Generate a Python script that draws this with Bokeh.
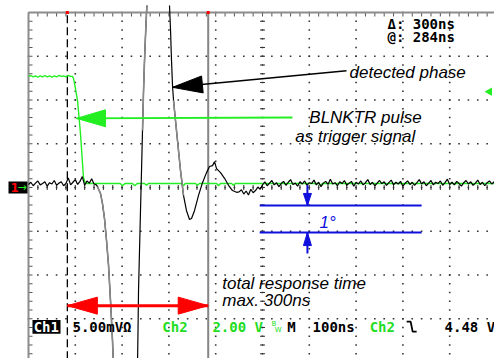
import numpy as np
from bokeh.plotting import figure
from bokeh.models import Range1d
from bokeh.core.properties import value
from bokeh.embed import file_html
from bokeh.resources import INLINE

# ---------------- data (time in ns, amplitude in divisions) ----------------
grid_x = list(range(0, 1001, 100))       # 100 ns / div
grid_y = list(range(-4, 5))              # 8 vertical divisions

cursor_a = 83.0                          # dashed cursor
cursor_b = 384.0                         # solid cursor  (delta 300 ns)

# Ch1 (detected phase) - noise before the edge
ch1_left_t = list(range(0, 150, 5))
ch1_left_v = [0.07, 0.12, 0.04, 0.10, 0.15, 0.06, 0.09, 0.13, 0.03, 0.11,
              0.08, 0.16, 0.05, 0.10, 0.13, 0.04, 0.09, 0.22, 0.06, 0.12,
              0.18, 0.07, 0.14, 0.25, 0.05, 0.15, 0.10, 0.20, 0.08, 0.06]
# falling part (off screen at the bottom)
ch1_fall_t = [147.4, 153.9, 158.1, 162.4, 166.7, 171.0, 175.2, 179.5, 181.6]
ch1_fall_v = [0.02, -0.14, -0.37, -0.71, -1.21, -1.78, -2.58, -3.50, -4.07]
# steep rise (bottom to top)
ch1_rise_t = [232.9, 234.0, 235.1, 237.2, 239.3, 241.5, 243.6, 245.8, 247.9, 250.0, 252.2, 253.2]
ch1_rise_v = [-4.07, -3.27, -2.35, -1.44, -0.53, 0.39, 1.30, 2.21, 2.90, 3.47, 4.00, 4.16]
# coming back from the top and ringing
ch1_ring_t = [301.3, 303.5, 305.6, 307.7, 309.9, 314.1, 318.4, 324.8, 331.2, 337.6,
              344.1, 348.3, 354.7, 363.3, 371.8, 380.4, 386.8, 393.2, 397.5, 401.8,
              410.3, 418.9, 427.4, 435.9, 444.5]
ch1_ring_v = [4.16, 3.59, 2.90, 2.33, 1.99, 1.53, 1.07, 0.39, -0.18, -0.53,
              -0.73, -0.71, -0.53, -0.18, 0.11, 0.34, 0.48, 0.50, 0.59, 0.43,
              0.34, 0.21, 0.05, -0.07, -0.11]
# noise after settling
ch1_right_t = list(range(450, 1001, 5))
ch1_right_v = [-0.10, -0.05, -0.15, -0.08, -0.17, -0.04, -0.12, -0.07, 0.01, -0.04, 0.06,
               0.13, 0.04, 0.10, 0.16, 0.06, 0.11, 0.02, 0.09, 0.14, 0.05, 0.12, 0.18, 0.07, 0.10, 0.03, 0.13, 0.08, 0.15, 0.05, 0.11,
               0.09, 0.17, 0.06, 0.12, 0.02, 0.10, 0.14, 0.07, 0.19, 0.08, 0.11, 0.04, 0.13, 0.09, 0.16, 0.05, 0.10, 0.14, 0.03, 0.12,
               0.08, 0.15, 0.06, 0.11, 0.18, 0.07, 0.12, 0.04, 0.10, 0.16, 0.09, 0.13, 0.05, 0.11, 0.17, 0.06, 0.12, 0.08, 0.14, 0.03,
               0.10, 0.15, 0.07, 0.12, 0.05, 0.11, 0.18, 0.08, 0.13, 0.04, 0.10, 0.16, 0.06, 0.12, 0.09, 0.15, 0.05, 0.11, 0.19, 0.07,
               0.12, 0.06, 0.14, 0.09, 0.03, 0.11, 0.16, 0.08, 0.13, 0.05, 0.10, 0.17, 0.07, 0.12, 0.04, 0.11, 0.15, 0.08, 0.13, 0.09]

# Ch2 (BLNKTR pulse)
ch2_t = [0, 5, 10, 15, 20, 25, 30, 35, 40, 45, 50, 55, 60, 65, 70, 75, 80, 85, 90,
         94.0, 96.2, 98.3, 104.7, 111.1, 117.5, 121.8,
         196, 201, 206, 222, 227, 232, 248, 252, 256, 327, 331, 335, 357, 361, 365,
         402, 406, 410, 434, 438, 442, 620, 624, 628, 1000]
ch2_v = [2.54, 2.56, 2.53, 2.55, 2.52, 2.55, 2.53, 2.56, 2.53, 2.55, 2.52, 2.55, 2.53, 2.56, 2.54, 2.55, 2.53, 2.56, 2.54,
         2.54, 2.49, 2.38, 1.99, 1.23, 0.23, 0.09,
         0.09, 0.04, 0.09, 0.09, 0.04, 0.09, 0.09, 0.05, 0.09, 0.09, 0.04, 0.09, 0.09, 0.05, 0.09,
         0.09, 0.04, 0.09, 0.09, 0.05, 0.09, 0.09, 0.05, 0.09, 0.09]
ch2_trig_level = 2.19

# annotations
black_arrow = ((679.5, 2.67), (307.7, 2.29))     # (tail, tip)
green_arrow = ((564.0, 1.60), (102.6, 1.58))
red_arrow_y = -2.70
blue_levels = [-0.41, -1.03]
blue_span = (494.0, 840.0)
blue_x = 596.0
blue_top_tail = 0.05
blue_bot_tail = -1.51

labels_txt = ["detected phase", "BLNKTR pulse", "as trigger signal", "total response time", "max. 300ns"]
labels_x = [686.0, 600.0, 570.0, 414.0, 414.0]
labels_y = [2.63, 1.60, 1.17, -2.19, -2.58]

# ---------------- figure ----------------
PXNS = 46.8 / 100.0      # px per ns
PXDIV = 43.75            # px per division
W, H = 494, 358
X0 = -28.0 / PXNS
Y1 = 187.0 / PXDIV
p = figure(width=W, height=H, x_range=Range1d(X0, X0 + W / PXNS),
           y_range=Range1d(Y1 - H / PXDIV, Y1), output_backend="svg",
           toolbar_location=None, x_axis_location=None, y_axis_location=None,
           min_border=0, outline_line_color=None, background_fill_color="white",
           border_fill_color="white")
p.grid.visible = False


def ox(px):
    return px / PXNS


def oy(px):
    return px / PXDIV


# graticule dots
dy = np.round(np.arange(-4, 4.001, 0.2), 3)
dx = np.arange(0, 1000.1, 20)
vx = np.repeat(grid_x[1:], len(dy)); vy = np.tile(dy, len(grid_x) - 1)
hx = np.tile(dx, len(grid_y) - 1); hy = np.repeat(grid_y[:-1], len(dx))
p.scatter(np.concatenate([vx, hx]), np.concatenate([vy, hy]), marker="square",
          size=1.6, fill_color="#333333", line_color=None)
# centre cross ticks
p.scatter([500] * len(dy), dy, marker="dash", size=5, line_color="#333333", line_width=1)
p.scatter(dx, [0] * len(dx), marker="dash", angle=np.pi / 2, size=5, line_color="#333333", line_width=1)
# border ticks
p.scatter(dx, [4 - oy(2)] * len(dx), marker="dash", angle=np.pi / 2, size=4, line_color="#555555", line_width=1)
p.scatter([ox(2)] * len(dy), dy, marker="dash", size=4, line_color="#555555", line_width=1)
# border lines
p.line([0, 1000], [4, 4], line_color="#8c8c8c", line_width=2)
p.line([0, 0], [-4.2, 4], line_color="#8c8c8c", line_width=2)

# cursors
p.line([cursor_a, cursor_a], [-4.2, 4], line_color="black", line_width=1.3, line_dash="8 4")
p.line([cursor_b, cursor_b], [-4.2, 4], line_color="#858585", line_width=2)
p.scatter([cursor_a, cursor_b], [4, 4], marker="square", size=3, fill_color="red", line_color=None)

# Ch2 trace
p.line(ch2_t, ch2_v, line_color="#22ee22", line_width=1.4)

# Ch1 trace
all_t = ch1_left_t + ch1_fall_t + [np.nan] + ch1_rise_t + [np.nan] + ch1_ring_t + ch1_right_t
all_v = ch1_left_v + ch1_fall_v + [np.nan] + ch1_rise_v + [np.nan] + ch1_ring_v + ch1_right_v
p.line(all_t, all_v, line_color="black", line_width=1.2)
p.line(ch1_fall_t, ch1_fall_v, line_color="#8a8a8a", line_width=1.6)
p.line(ch1_rise_t[6:], ch1_rise_v[6:], line_color="#8a8a8a", line_width=1.6)
p.line(ch1_ring_t[4:9], ch1_ring_v[4:9], line_color="#8a8a8a", line_width=1.6)


def head(tip, tail, L, Wd):
    dxp = (tail[0] - tip[0]) * PXNS
    dyp = (tail[1] - tip[1]) * PXDIV
    n = np.hypot(dxp, dyp)
    ux, uy = dxp / n, dyp / n
    pts = [(0, 0), (L * ux - uy * Wd, L * uy + ux * Wd), (L * ux + uy * Wd, L * uy - ux * Wd)]
    return [tip[0] + ox(a) for a, b in pts], [tip[1] + oy(b) for a, b in pts]


def arrow(tail, tip, color, lw, L, Wd):
    p.line([tail[0], tip[0]], [tail[1], tip[1]], line_color=color, line_width=lw)
    xs, ys = head(tip, tail, L, Wd)
    p.patch(xs, ys, fill_color=color, line_color=color, line_width=1)


arrow(black_arrow[0], black_arrow[1], "black", 1.5, 30, 8.5)
arrow(green_arrow[0], green_arrow[1], "#22ee22", 2, 29, 8.5)
# red double arrow
mid = (cursor_a + cursor_b) / 2
arrow((mid, red_arrow_y), (cursor_a, red_arrow_y), "red", 3, 30, 8.5)
arrow((mid, red_arrow_y), (cursor_b, red_arrow_y), "red", 3, 30, 8.5)
# blue 1 degree marker
for lv in blue_levels:
    p.line(list(blue_span), [lv, lv], line_color="#1010dd", line_width=2)
arrow((blue_x, blue_top_tail), (blue_x, blue_levels[0]), "#1010dd", 2, 12, 4)
arrow((blue_x, blue_bot_tail), (blue_x, blue_levels[1]), "#1010dd", 2, 13, 4)

# trigger level marker
p.scatter([985], [ch2_trig_level], marker="triangle", angle=np.pi / 2, size=7,
          fill_color="#22ee22", line_color="#22ee22")

# texts
p.text(labels_x, labels_y, text=labels_txt, text_font=value("Liberation Sans"),
       text_font_style="italic", text_font_size="17px", text_baseline="middle", text_color="black")
p.text([622], [-0.80], text=["1°"], text_font=value("Liberation Sans"),
       text_font_style="italic", text_font_size="17px", text_baseline="middle", text_color="#1010dd")
p.text([767, 767], [3.73, 3.43], text=["\u0394: 300ns", "@: 284ns"], text_font=value("DejaVu Sans Mono"),
       text_font_style="bold", text_font_size="14px", text_baseline="middle", text_color="black")

# status line
sy = -3.18
p.quad(left=[8.5], right=[68.4], top=[-3.03], bottom=[-3.34], fill_color="black", line_color=None)
p.text([11.0], [sy], text=["Ch1"], text_font=value("DejaVu Sans Mono"), text_font_size="14px",
       text_font_style="bold", text_baseline="middle", text_color="white")
p.text([94.0, 553.0, 607.0, 889.0], [sy] * 4, text=["5.00mV\u03a9", "M", "100ns", "4.48 V"],
       text_font=value("DejaVu Sans Mono"), text_font_size="14px", text_font_style="bold",
       text_baseline="middle", text_color="black")
p.text([286.0, 393.0, 729.0], [sy] * 3, text=["Ch2", "2.00 V", "Ch2"],
       text_font=value("DejaVu Sans Mono"), text_font_size="14px", text_font_style="bold",
       text_baseline="middle", text_color="#22dd22")
p.text([519.0, 526.0], [sy + oy(3), sy - oy(3)], text=["B", "W"], text_font=value("DejaVu Sans"),
       text_font_size="7px", text_baseline="middle", text_color="#22dd22")
# falling edge symbol
ex = 808.0
p.line([ex, ex + ox(4), ex + ox(6), ex + ox(10)], [sy + oy(5), sy + oy(5), sy - oy(5), sy - oy(5)],
       line_color="black", line_width=1.8)

# channel 1 ground marker
p.quad(left=[X0 + ox(8)], right=[-ox(1)], top=[oy(6)], bottom=[-oy(6)], fill_color="black", line_color=None)
p.text([X0 + ox(10)], [0], text=["1"], text_font=value("DejaVu Sans"), text_font_style="bold",
       text_font_size="12px", text_baseline="middle", text_color="red")
p.text([X0 + ox(17)], [0], text=["\u2192"], text_font=value("DejaVu Sans"),
       text_font_size="11px", text_baseline="middle", text_color="#22ee22")

open("out.html", "w").write(file_html(p, INLINE))
